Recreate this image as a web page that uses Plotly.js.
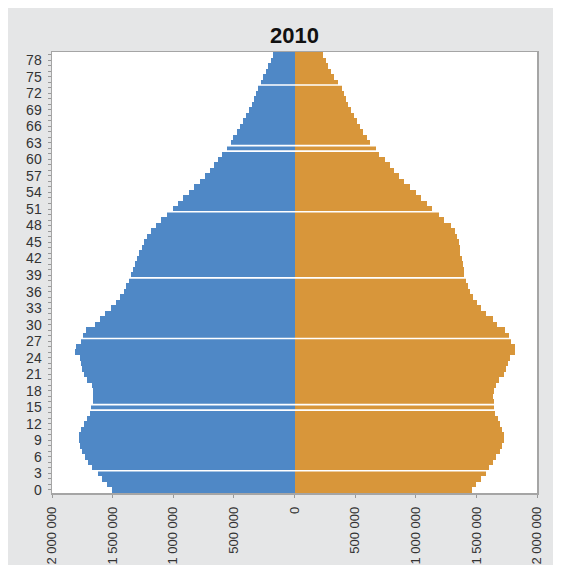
<!DOCTYPE html>
<html><head><meta charset="utf-8">
<script src="https://cdn.plot.ly/plotly-3.0.1.min.js"></script>
<style>html,body{margin:0;padding:0;background:#fff}#chart{width:561px;height:572px}</style>
</head><body><div id="chart"></div>
<script>
const ages = [0,1,2,3,4,5,6,7,8,9,10,11,12,13,14,15,16,17,18,19,20,21,22,23,24,25,26,27,28,29,30,31,32,33,34,35,36,37,38,39,40,41,42,43,44,45,46,47,48,49,50,51,52,53,54,55,56,57,58,59,60,61,62,63,64,65,66,67,68,69,70,71,72,73,74,75,76,77,78,79];
const male = [1507000,1548000,1586000,1619000,1672000,1705000,1730000,1755000,1771000,1780000,
  1775000,1759000,1734000,1709000,1689000,1676000,1664000,1662000,1665000,1672000,
  1714000,1738000,1752000,1763000,1771000,1807000,1804000,1759000,1742000,1718000,
  1643000,1602000,1561000,1513000,1472000,1437000,1410000,1386000,1367000,1346000,
  1334000,1317000,1301000,1280000,1259000,1239000,1214000,1183000,1144000,1098000,
  1053000,1006000,960000,918000,871000,827000,780000,739000,698000,665000,
  629000,601000,560000,527000,505000,472000,450000,423000,401000,376000,
  353000,334000,318000,304000,279000,258000,235000,216000,197000,175000];
const female = [1463000,1499000,1534000,1577000,1606000,1637000,1664000,1691000,1711000,1730000,
  1728000,1711000,1691000,1675000,1656000,1647000,1642000,1641000,1643000,1660000,
  1686000,1728000,1747000,1757000,1774000,1817000,1815000,1782000,1769000,1738000,
  1670000,1637000,1581000,1534000,1507000,1474000,1447000,1430000,1416000,1400000,
  1398000,1386000,1385000,1369000,1368000,1356000,1342000,1323000,1292000,1236000,
  1192000,1133000,1092000,1045000,1001000,954000,907000,865000,824000,789000,
  747000,700000,673000,626000,596000,566000,541000,514000,487000,468000,
  444000,425000,407000,390000,359000,326000,301000,277000,260000,239000];
const xTickVals = [-2000000,-1500000,-1000000,-500000,0,500000,1000000,1500000,2000000];
const xTickText = ['2 000 000','1 500 000','1 000 000','500 000','0','500 000','1 000 000','1 500 000','2 000 000'];
const gapAfterAges = [3,14,15,27,38,50,61,62,73];

const BLUE = '#4f88c6', ORANGE = '#d8963a';
const traces = [
  {type:'bar', orientation:'h', y:ages, x:male.map(v=>-v), name:'Male',
   marker:{color:BLUE, line:{width:0}}, hoverinfo:'skip'},
  {type:'bar', orientation:'h', y:ages, x:female, name:'Female',
   marker:{color:ORANGE, line:{width:0}}, hoverinfo:'skip'}
];
const W = 561, H = 572, L = 52, R = 24, T = 52, B = 79;
const pw = W - L - R, ph = H - T - B;
const px2x = p => (p - L) / pw;
const py2y = p => (H - B - p) / ph;
const shapes = [
  {type:'rect', xref:'paper', yref:'paper', x0:px2x(8), x1:px2x(553), y0:py2y(565), y1:py2y(8),
   fillcolor:'#e5e6e7', line:{width:0}, layer:'below'},
  {type:'rect', xref:'paper', yref:'paper', x0:0, x1:1, y0:0, y1:1,
   fillcolor:'#ffffff', line:{width:0}, layer:'below'}
];
gapAfterAges.forEach(a => shapes.push({type:'line', xref:'x', yref:'y',
  x0:-1990000, x1:1990000, y0:a+0.5, y1:a+0.5, line:{color:'#ffffff', width:1.6}, layer:'above'}));

const layout = {
  width:W, height:H, margin:{l:L, r:R, t:T, b:B, pad:0},
  paper_bgcolor:'#ffffff', plot_bgcolor:'#ffffff',
  showlegend:false, barmode:'relative', bargap:0,
  font:{family:'"Liberation Sans", Arial, sans-serif', color:'#333'},
  title:{text:'<b>2010</b>', font:{size:22, color:'#111', family:'"Liberation Sans", Arial, sans-serif'},
         x:0.5, xref:'paper', xanchor:'center', y:1-35/H, yref:'container', yanchor:'middle'},
  xaxis:{range:[-2000000,2000000], tickvals:xTickVals, ticktext:xTickText, tickangle:-90,
         ticks:'outside', ticklen:3, tickcolor:'#999', showgrid:false, zeroline:false,
         showline:true, linecolor:'#a5a5a5', linewidth:1.5, mirror:true,
         tickfont:{size:13, color:'#333'}, ticklabelstandoff:4, fixedrange:true},
  yaxis:{range:[-0.55,79.5], tick0:0, dtick:3, ticks:'outside', ticklen:3, tickcolor:'#999',
         minor:{dtick:1, ticks:'outside', ticklen:3, tickcolor:'#999', showgrid:false},
         showgrid:false, zeroline:false, showline:true, linecolor:'#a5a5a5', linewidth:1.5, mirror:true,
         tickfont:{size:14, color:'#333'}, ticklabelstandoff:3, fixedrange:true},
  shapes:shapes
};
Plotly.newPlot('chart', traces, layout, {displayModeBar:false, staticPlot:true});
</script>
</body></html>
